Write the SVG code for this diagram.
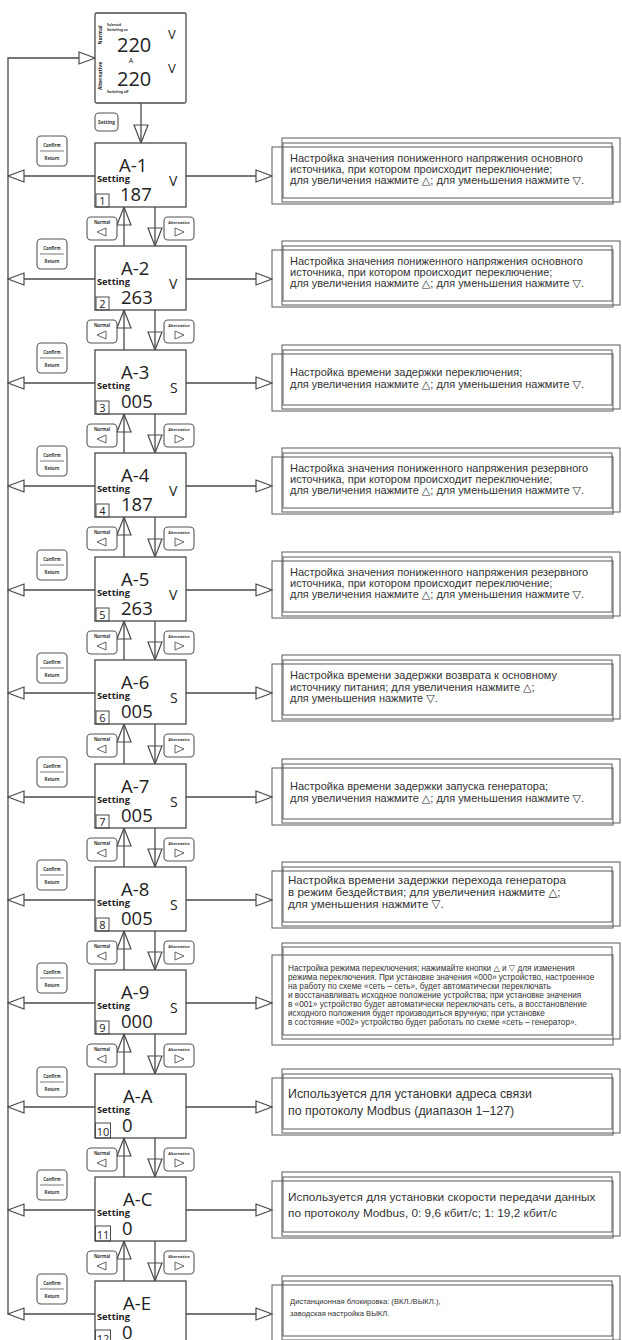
<svg xmlns="http://www.w3.org/2000/svg" width="622" height="1340" viewBox="0 0 622 1340">
<style>
.bx{fill:#fff;stroke:#4a4a4a;stroke-width:1.3}
.sq{fill:none;stroke:#4a4a4a;stroke-width:1}
.btn{fill:#fff;stroke:#555;stroke-width:1.1}
.tb{fill:none;stroke:#5a5a5a;stroke-width:1}
.c{fill:none;stroke:#4a4a4a;stroke-width:1.3}
.lb{font-family:"Open Sans",sans-serif;font-size:18.5px;fill:#222}
.st{font-family:"Open Sans",sans-serif;font-size:9.3px;font-weight:bold;fill:#222}
.un{font-family:"Open Sans",sans-serif;font-size:14px;fill:#222}
.nm{font-family:"Open Sans",sans-serif;font-size:11px;fill:#222;text-anchor:middle}
.tiny{font-family:"Open Sans",sans-serif;font-size:4.3px;font-weight:bold;fill:#333;text-anchor:middle}
.t{font-family:"Liberation Sans",Arial,"DejaVu Sans",sans-serif;fill:#333}
.tri{fill:#fff;stroke:#555;stroke-width:0.9}
</style>
<defs>
<marker id="ah" viewBox="0 0 18 14" refX="17" refY="7" markerWidth="18" markerHeight="14" markerUnits="userSpaceOnUse" orient="auto"><path d="M1,1 L17,7 L1,13 Z" fill="#fff" stroke="#4a4a4a" stroke-width="1.2"/></marker>
<marker id="av" viewBox="0 0 20 16" refX="19" refY="8" markerWidth="20" markerHeight="16" markerUnits="userSpaceOnUse" orient="auto"><path d="M1,1 L19,8 L1,15 Z" fill="none" stroke="#4a4a4a" stroke-width="1.2"/></marker>
<g id="confirmBtn"><rect class="btn" x="37" y="-7" width="30" height="30" rx="4"/><line x1="40" y1="8" x2="64" y2="8" stroke="#555" stroke-width="0.8"/><text class="tiny" x="52" y="4">Confirm</text><text class="tiny" x="52" y="17">Return</text></g>
<g id="navBtns"><rect class="btn" x="87" y="74" width="30" height="23" rx="4"/><text class="tiny" x="102" y="81">Normal</text><polygon class="tri" points="97,89 106,85 106,93"/><rect class="btn" x="164" y="74" width="30" height="23" rx="4"/><text class="tiny" x="179" y="81" style="font-size:3.8px">Alternative</text><polygon class="tri" points="175,85 184,89 175,93"/></g>
<g id="tbFrame"><rect class="tb" x="282" y="-38" width="338" height="64"/><rect class="tb" x="283" y="-33" width="329" height="55"/><rect class="tb" x="272" y="-29" width="341" height="57"/></g>
</defs>

<g id="connectors">
<path class="c" d="M8,1314 V58 H95" marker-end="url(#ah)"/>
<line class="c" x1="141" y1="103" x2="141" y2="143" marker-end="url(#av)"/>
<line class="c" x1="95" y1="176" x2="8" y2="176" marker-end="url(#ah)"/>
<line class="c" x1="95" y1="279" x2="8" y2="279" marker-end="url(#ah)"/>
<line class="c" x1="95" y1="383" x2="8" y2="383" marker-end="url(#ah)"/>
<line class="c" x1="95" y1="486" x2="8" y2="486" marker-end="url(#ah)"/>
<line class="c" x1="95" y1="590" x2="8" y2="590" marker-end="url(#ah)"/>
<line class="c" x1="95" y1="693" x2="8" y2="693" marker-end="url(#ah)"/>
<line class="c" x1="95" y1="797" x2="8" y2="797" marker-end="url(#ah)"/>
<line class="c" x1="95" y1="900" x2="8" y2="900" marker-end="url(#ah)"/>
<line class="c" x1="95" y1="1003" x2="8" y2="1003" marker-end="url(#ah)"/>
<line class="c" x1="95" y1="1107" x2="8" y2="1107" marker-end="url(#ah)"/>
<line class="c" x1="95" y1="1210" x2="8" y2="1210" marker-end="url(#ah)"/>
<line class="c" x1="95" y1="1314" x2="8" y2="1314" marker-end="url(#ah)"/>
<line class="c" x1="186" y1="176" x2="272" y2="176" marker-end="url(#ah)"/>
<line class="c" x1="186" y1="279" x2="272" y2="279" marker-end="url(#ah)"/>
<line class="c" x1="186" y1="383" x2="272" y2="383" marker-end="url(#ah)"/>
<line class="c" x1="186" y1="486" x2="272" y2="486" marker-end="url(#ah)"/>
<line class="c" x1="186" y1="590" x2="272" y2="590" marker-end="url(#ah)"/>
<line class="c" x1="186" y1="693" x2="272" y2="693" marker-end="url(#ah)"/>
<line class="c" x1="186" y1="797" x2="272" y2="797" marker-end="url(#ah)"/>
<line class="c" x1="186" y1="900" x2="272" y2="900" marker-end="url(#ah)"/>
<line class="c" x1="186" y1="1003" x2="272" y2="1003" marker-end="url(#ah)"/>
<line class="c" x1="186" y1="1107" x2="272" y2="1107" marker-end="url(#ah)"/>
<line class="c" x1="186" y1="1210" x2="272" y2="1210" marker-end="url(#ah)"/>
<line class="c" x1="186" y1="1314" x2="272" y2="1314" marker-end="url(#ah)"/>
<line class="c" x1="155" y1="207" x2="155" y2="246" marker-end="url(#av)"/><line class="c" x1="124" y1="246" x2="124" y2="207" marker-end="url(#av)"/>
<line class="c" x1="155" y1="310" x2="155" y2="350" marker-end="url(#av)"/><line class="c" x1="124" y1="350" x2="124" y2="310" marker-end="url(#av)"/>
<line class="c" x1="155" y1="414" x2="155" y2="453" marker-end="url(#av)"/><line class="c" x1="124" y1="453" x2="124" y2="414" marker-end="url(#av)"/>
<line class="c" x1="155" y1="517" x2="155" y2="557" marker-end="url(#av)"/><line class="c" x1="124" y1="557" x2="124" y2="517" marker-end="url(#av)"/>
<line class="c" x1="155" y1="621" x2="155" y2="660" marker-end="url(#av)"/><line class="c" x1="124" y1="660" x2="124" y2="621" marker-end="url(#av)"/>
<line class="c" x1="155" y1="724" x2="155" y2="764" marker-end="url(#av)"/><line class="c" x1="124" y1="764" x2="124" y2="724" marker-end="url(#av)"/>
<line class="c" x1="155" y1="828" x2="155" y2="867" marker-end="url(#av)"/><line class="c" x1="124" y1="867" x2="124" y2="828" marker-end="url(#av)"/>
<line class="c" x1="155" y1="931" x2="155" y2="970" marker-end="url(#av)"/><line class="c" x1="124" y1="970" x2="124" y2="931" marker-end="url(#av)"/>
<line class="c" x1="155" y1="1034" x2="155" y2="1074" marker-end="url(#av)"/><line class="c" x1="124" y1="1074" x2="124" y2="1034" marker-end="url(#av)"/>
<line class="c" x1="155" y1="1138" x2="155" y2="1177" marker-end="url(#av)"/><line class="c" x1="124" y1="1177" x2="124" y2="1138" marker-end="url(#av)"/>
<line class="c" x1="155" y1="1241" x2="155" y2="1281" marker-end="url(#av)"/><line class="c" x1="124" y1="1281" x2="124" y2="1241" marker-end="url(#av)"/>
</g>

<g id="display">
<rect class="bx" x="95" y="13" width="91" height="90" rx="1.5"/>
<text class="st" style="font-size:5px" transform="translate(102,35) rotate(-90)" text-anchor="middle">Normal</text>
<text class="st" style="font-size:5px" transform="translate(102,76) rotate(-90)" text-anchor="middle">Alternative</text>
<text class="tiny" x="107" y="26" style="text-anchor:start;font-size:3.3px">Solenoid</text>
<text class="tiny" x="107" y="31" style="text-anchor:start;font-size:3.3px">Switching on</text>
<text class="lb" x="117" y="52" style="font-size:20px">220</text>
<text class="un" x="168" y="39" style="font-size:13px">V</text>
<text class="st" x="131" y="63" style="font-size:7px;font-weight:normal" text-anchor="middle">A</text>
<text class="lb" x="117" y="86" style="font-size:20px">220</text>
<text class="un" x="168" y="73" style="font-size:13px">V</text>
<text class="tiny" x="107" y="93" style="text-anchor:start;font-size:3.3px">Switching off</text>
</g>
<g id="settingBtn"><rect class="btn" x="95" y="113" width="23" height="18" rx="4"/><text class="tiny" x="106.5" y="124" style="font-size:4.8px">Setting</text></g>

<g id="A1" transform="translate(0,143)"><rect class="bx" x="95" y="0" width="91" height="64"/><text class="lb" x="119" y="29">A-1</text><text class="st" x="97" y="38.5">Setting</text><text class="un" x="169" y="43">V</text><text class="lb" x="120" y="57.5">187</text><rect class="sq" x="96" y="51" width="13" height="13"/><text class="nm" x="102.5" y="62">1</text></g>
<g id="A2" transform="translate(0,246)"><rect class="bx" x="95" y="0" width="91" height="64"/><text class="lb" x="121" y="29">A-2</text><text class="st" x="97" y="38.5">Setting</text><text class="un" x="169" y="43">V</text><text class="lb" x="121" y="57.5">263</text><rect class="sq" x="96" y="51" width="13" height="13"/><text class="nm" x="102.5" y="62">2</text></g>
<g id="A3" transform="translate(0,350)"><rect class="bx" x="95" y="0" width="91" height="64"/><text class="lb" x="121" y="29">A-3</text><text class="st" x="97" y="38.5">Setting</text><text class="un" x="170" y="43">S</text><text class="lb" x="121" y="57.5">005</text><rect class="sq" x="96" y="51" width="13" height="13"/><text class="nm" x="102.5" y="62">3</text></g>
<g id="A4" transform="translate(0,453)"><rect class="bx" x="95" y="0" width="91" height="64"/><text class="lb" x="121" y="29">A-4</text><text class="st" x="97" y="38.5">Setting</text><text class="un" x="169" y="43">V</text><text class="lb" x="121" y="57.5">187</text><rect class="sq" x="96" y="51" width="13" height="13"/><text class="nm" x="102.5" y="62">4</text></g>
<g id="A5" transform="translate(0,557)"><rect class="bx" x="95" y="0" width="91" height="64"/><text class="lb" x="121" y="29">A-5</text><text class="st" x="97" y="38.5">Setting</text><text class="un" x="169" y="43">V</text><text class="lb" x="121" y="57.5">263</text><rect class="sq" x="96" y="51" width="13" height="13"/><text class="nm" x="102.5" y="62">5</text></g>
<g id="A6" transform="translate(0,660)"><rect class="bx" x="95" y="0" width="91" height="64"/><text class="lb" x="121" y="29">A-6</text><text class="st" x="97" y="38.5">Setting</text><text class="un" x="170" y="43">S</text><text class="lb" x="121" y="57.5">005</text><rect class="sq" x="96" y="51" width="13" height="13"/><text class="nm" x="102.5" y="62">6</text></g>
<g id="A7" transform="translate(0,764)"><rect class="bx" x="95" y="0" width="91" height="64"/><text class="lb" x="121" y="29">A-7</text><text class="st" x="97" y="38.5">Setting</text><text class="un" x="170" y="43">S</text><text class="lb" x="121" y="57.5">005</text><rect class="sq" x="96" y="51" width="13" height="13"/><text class="nm" x="102.5" y="62">7</text></g>
<g id="A8" transform="translate(0,867)"><rect class="bx" x="95" y="0" width="91" height="64"/><text class="lb" x="121" y="29">A-8</text><text class="st" x="97" y="38.5">Setting</text><text class="un" x="170" y="43">S</text><text class="lb" x="121" y="57.5">005</text><rect class="sq" x="96" y="51" width="13" height="13"/><text class="nm" x="102.5" y="62">8</text></g>
<g id="A9" transform="translate(0,970)"><rect class="bx" x="95" y="0" width="91" height="64"/><text class="lb" x="121" y="29">A-9</text><text class="st" x="97" y="38.5">Setting</text><text class="un" x="170" y="43">S</text><text class="lb" x="121" y="57.5">000</text><rect class="sq" x="96" y="51" width="13" height="13"/><text class="nm" x="102.5" y="62">9</text></g>
<g id="AA" transform="translate(0,1074)"><rect class="bx" x="95" y="0" width="91" height="64"/><text class="lb" x="123" y="29">A-A</text><text class="st" x="97" y="38.5">Setting</text><text class="lb" x="122" y="57.5">0</text><rect class="sq" x="95.5" y="49" width="15" height="15"/><text class="nm" x="103" y="62">10</text></g>
<g id="AC" transform="translate(0,1177)"><rect class="bx" x="95" y="0" width="91" height="64"/><text class="lb" x="123" y="29">A-C</text><text class="st" x="97" y="38.5">Setting</text><text class="lb" x="122" y="57.5">0</text><rect class="sq" x="95.5" y="49" width="15" height="15"/><text class="nm" x="103" y="62">11</text></g>
<g id="AE" transform="translate(0,1281)"><rect class="bx" x="95" y="0" width="91" height="64"/><text class="lb" x="123" y="29">A-E</text><text class="st" x="97" y="38.5">Setting</text><text class="lb" x="122" y="57.5">0</text><rect class="sq" x="95.5" y="49" width="15" height="15"/><text class="nm" x="103" y="62">12</text></g>

<g id="confirm-buttons">
<use href="#confirmBtn" transform="translate(0,143)"/><use href="#confirmBtn" transform="translate(0,246)"/><use href="#confirmBtn" transform="translate(0,350)"/><use href="#confirmBtn" transform="translate(0,453)"/><use href="#confirmBtn" transform="translate(0,557)"/><use href="#confirmBtn" transform="translate(0,660)"/><use href="#confirmBtn" transform="translate(0,764)"/><use href="#confirmBtn" transform="translate(0,867)"/><use href="#confirmBtn" transform="translate(0,970)"/><use href="#confirmBtn" transform="translate(0,1074)"/><use href="#confirmBtn" transform="translate(0,1177)"/><use href="#confirmBtn" transform="translate(0,1281)"/>
</g>
<g id="nav-buttons">
<use href="#navBtns" transform="translate(0,143)"/><use href="#navBtns" transform="translate(0,246)"/><use href="#navBtns" transform="translate(0,350)"/><use href="#navBtns" transform="translate(0,453)"/><use href="#navBtns" transform="translate(0,557)"/><use href="#navBtns" transform="translate(0,660)"/><use href="#navBtns" transform="translate(0,764)"/><use href="#navBtns" transform="translate(0,867)"/><use href="#navBtns" transform="translate(0,970)"/><use href="#navBtns" transform="translate(0,1074)"/><use href="#navBtns" transform="translate(0,1177)"/>
</g>

<g id="T1" transform="translate(0,176)"><use href="#tbFrame"/><text class="t" font-size="11"><tspan x="290" y="-14">Настройка значения пониженного напряжения основного</tspan><tspan x="290" y="-3">источника, при котором происходит переключение;</tspan><tspan x="290" y="8">для увеличения нажмите △; для уменьшения нажмите ▽.</tspan></text></g>
<g id="T2" transform="translate(0,279)"><use href="#tbFrame"/><text class="t" font-size="11"><tspan x="290" y="-14">Настройка значения пониженного напряжения основного</tspan><tspan x="290" y="-3">источника, при котором происходит переключение;</tspan><tspan x="290" y="8">для увеличения нажмите △; для уменьшения нажмите ▽.</tspan></text></g>
<g id="T3" transform="translate(0,383)"><use href="#tbFrame"/><text class="t" font-size="11"><tspan x="290" y="-7">Настройка времени задержки переключения;</tspan><tspan x="290" y="5">для увеличения нажмите △; для уменьшения нажмите ▽.</tspan></text></g>
<g id="T4" transform="translate(0,486)"><use href="#tbFrame"/><text class="t" font-size="11"><tspan x="290" y="-14">Настройка значения пониженного напряжения резервного</tspan><tspan x="290" y="-3">источника, при котором происходит переключение;</tspan><tspan x="290" y="8">для увеличения нажмите △; для уменьшения нажмите ▽.</tspan></text></g>
<g id="T5" transform="translate(0,590)"><use href="#tbFrame"/><text class="t" font-size="11"><tspan x="290" y="-14">Настройка значения пониженного напряжения резервного</tspan><tspan x="290" y="-3">источника, при котором происходит переключение;</tspan><tspan x="290" y="8">для увеличения нажмите △; для уменьшения нажмите ▽.</tspan></text></g>
<g id="T6" transform="translate(0,693)"><use href="#tbFrame"/><text class="t" font-size="11"><tspan x="290" y="-14">Настройка времени задержки возврата к основному</tspan><tspan x="290" y="-2.5">источнику питания; для увеличения нажмите △;</tspan><tspan x="290" y="9">для уменьшения нажмите ▽.</tspan></text></g>
<g id="T7" transform="translate(0,797)"><use href="#tbFrame"/><text class="t" font-size="11"><tspan x="290" y="-7">Настройка времени задержки запуска генератора;</tspan><tspan x="290" y="5">для увеличения нажмите △; для уменьшения нажмите ▽.</tspan></text></g>
<g id="T8" transform="translate(0,900)"><use href="#tbFrame"/><text class="t" font-size="11.6"><tspan x="288" y="-16">Настройка времени задержки перехода генератора</tspan><tspan x="288" y="-4">в режим бездействия; для увеличения нажмите △;</tspan><tspan x="288" y="8">для уменьшения нажмите ▽.</tspan></text></g>
<g id="T9" transform="translate(0,1003)"><rect class="tb" x="282" y="-60" width="338" height="96"/><rect class="tb" x="283" y="-56" width="329" height="88"/><rect class="tb" x="272" y="-48" width="341" height="90"/><text class="t" font-size="8.2"><tspan x="288" y="-32">Настройка режима переключения; нажимайте кнопки △ и ▽ для изменения</tspan><tspan x="288" y="-23">режима переключения. При установке значения «000» устройство, настроенное</tspan><tspan x="288" y="-14">на работу по схеме «сеть – сеть», будет автоматически переключать</tspan><tspan x="288" y="-5">и восстанавливать исходное положение устройства; при установке значения</tspan><tspan x="288" y="4">в «001» устройство будет автоматически переключать сеть, а восстановление</tspan><tspan x="288" y="13">исходного положения будет производиться вручную; при установке</tspan><tspan x="288" y="22">в состояние «002» устройство будет работать по схеме «сеть – генератор».</tspan></text></g>
<g id="TA" transform="translate(0,1107)"><use href="#tbFrame"/><text class="t" font-size="12.4"><tspan x="288" y="-9">Используется для установки адреса связи</tspan><tspan x="288" y="8">по протоколу Modbus (диапазон 1–127)</tspan></text></g>
<g id="TC" transform="translate(0,1210)"><use href="#tbFrame"/><text class="t" font-size="11.8"><tspan x="288" y="-9">Используется для установки скорости передачи данных</tspan><tspan x="288" y="7">по протоколу Modbus, 0: 9,6 кбит/с; 1: 19,2 кбит/с</tspan></text></g>
<g id="TE" transform="translate(0,1314)"><use href="#tbFrame"/><text class="t" font-size="7.6"><tspan x="290" y="-10">Дистанционная блокировка: (ВКЛ./ВЫКЛ.),</tspan><tspan x="290" y="2">заводская настройка ВЫКЛ.</tspan></text></g>
</svg>
